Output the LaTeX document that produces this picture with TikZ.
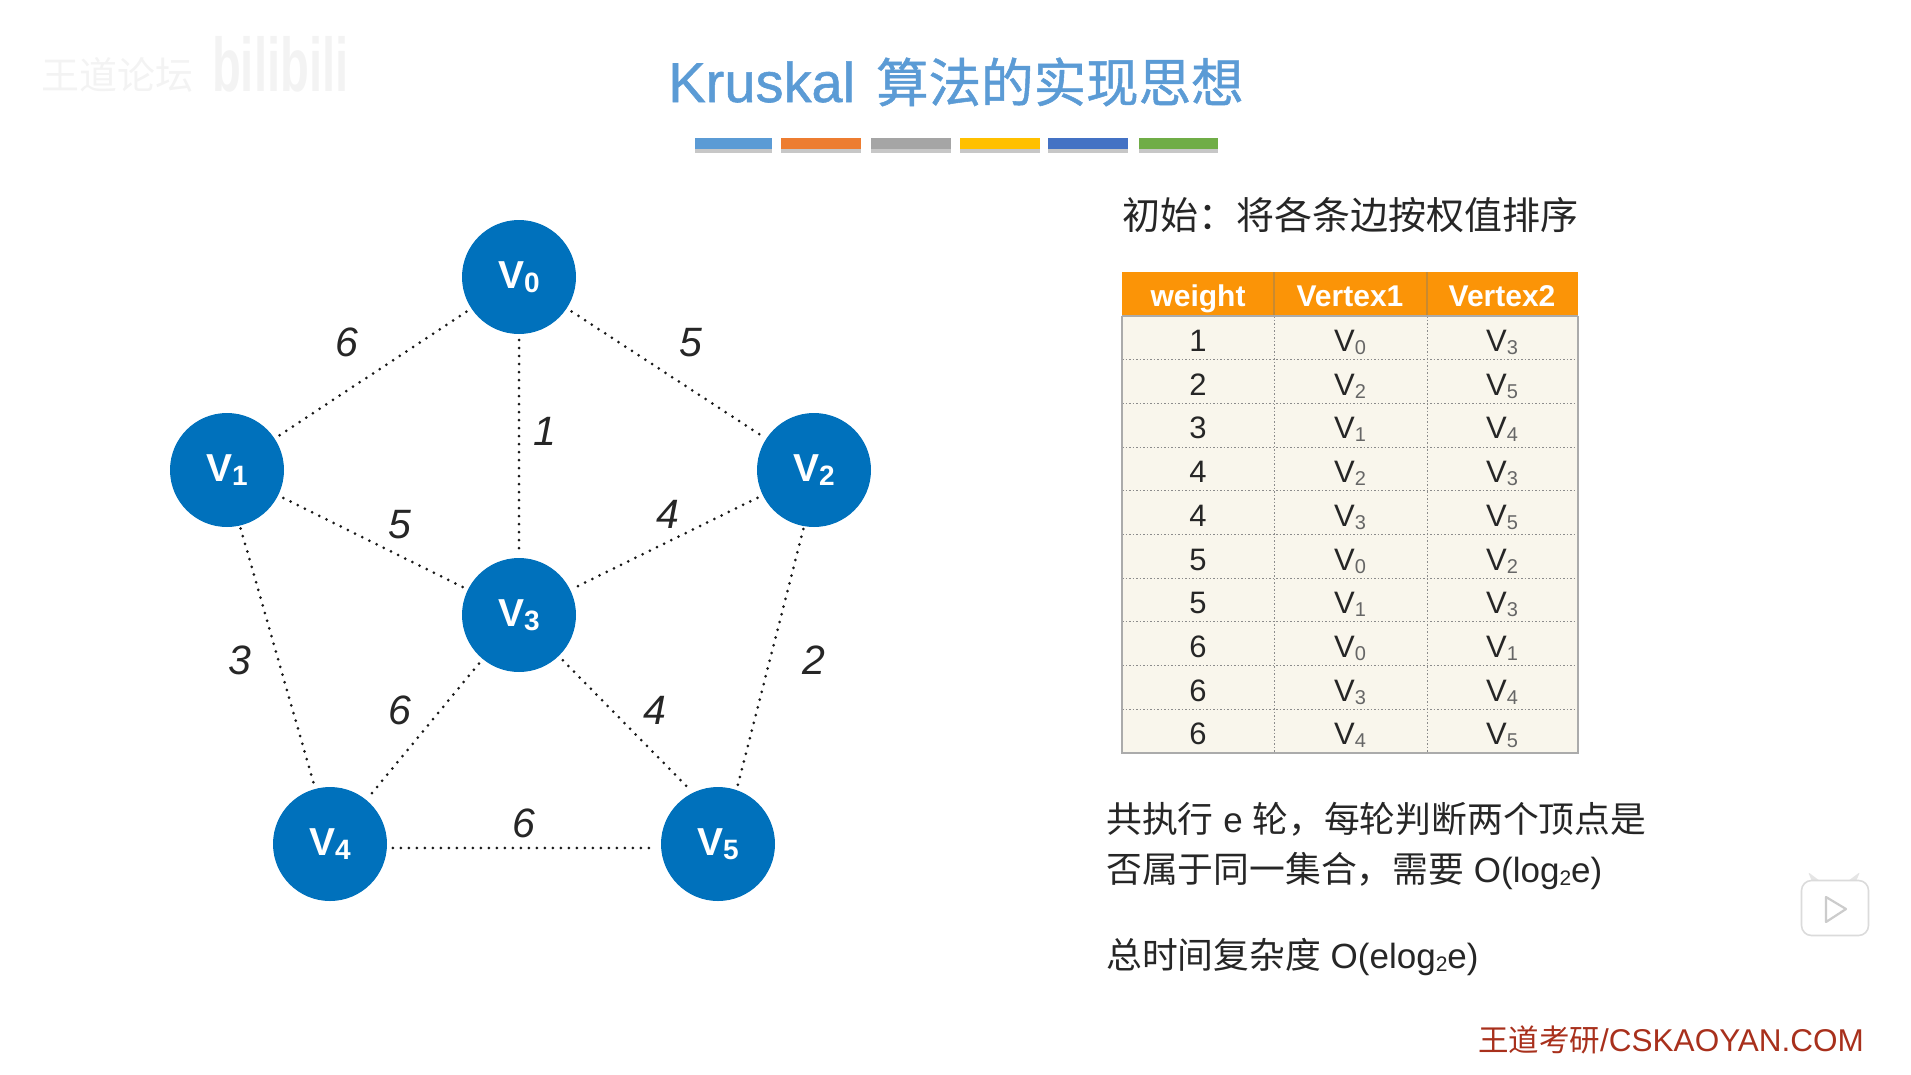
\documentclass[tikz,border=0pt]{standalone}
\usepackage{fontspec}
\setmainfont{Liberation Sans}
\newfontfamily\cjk{Noto Sans CJK SC}
\newfontfamily\cjkmed[FakeBold=1]{Noto Sans CJK SC}
\newcommand\fsz[1]{\fontsize{#1}{#1}\selectfont}
\newcommand\cjp[1]{{\cjk\fsz{35.8}#1}}
\newcommand\tv[1]{V\raisebox{-3pt}{\fsz{20}\textcolor{subgrey}{#1}}}
\newcommand\nv[1]{{\bfseries\fsz{39}\raisebox{-3pt}{V\raisebox{-3.5pt}{\fsz{28}#1}}}}
\newcommand\lowtwo{\raisebox{-3pt}{\fsz{21}2}}
\definecolor{subgrey}{HTML}{666666}
\definecolor{nodeblue}{HTML}{0071BC}
\definecolor{titleblue}{HTML}{5B9BD5}
\definecolor{txt}{HTML}{262626}
\definecolor{hdr}{HTML}{FB9407}
\definecolor{hdrline}{HTML}{C98A30}
\definecolor{body}{HTML}{F9F6EC}
\definecolor{tborder}{HTML}{ABABAB}
\definecolor{wm}{HTML}{F3F3F3}
\definecolor{foot}{HTML}{A8301C}
\tikzset{
  vert/.style={circle,fill=nodeblue,minimum size=114pt,inner sep=0pt,outer sep=0pt,text=white},
  edge/.style={line width=3pt,line cap=round,dash pattern=on 0pt off 8pt,black!90,shorten >=6pt,shorten <=6pt},
  wlab/.style={font=\fsz{41}\itshape,text=txt,inner sep=0pt},
  cell/.style={anchor=base,font=\fsz{31},text=txt,inner sep=0pt},
  head/.style={anchor=base,font=\bfseries\fsz{30},text=white,inner sep=0pt},
  para/.style={anchor=base west,text=txt,inner sep=0pt,font=\fsz{35}},
  rowline/.style={line width=1pt,dash pattern=on 1.5pt off 2pt,black!45},
}
\begin{document}
\begin{tikzpicture}[x=1pt,y=-1pt]
\useasboundingbox (0,0) rectangle (1911,1074);
% watermark
\node[anchor=west,inner sep=0pt,text=wm,font=\cjk\fsz{38}] (wmtext) at (41,75) {王道论坛};
\node[anchor=west,inner sep=0pt,text=wm,font=\bfseries\fsz{76},xscale=.62] (wmbili) at (212,64) {bilibili};
% title
\node[anchor=base,inner sep=0pt,text=titleblue] (title) at (956,102) {{\fsz{56}\addfontfeature{FakeBold=1}Kruskal}\hspace{21pt}{\cjkmed\fsz{52.5}算法的实现思想}};
% colour bars
\foreach \xa/\xb/\c/\n in {695/772/5B9BD5/1,781/861/ED7D31/2,871/951/A5A5A5/3,960/1040/FFC000/4,1048/1128/4472C4/5,1139/1218/70AD47/6}{
  \definecolor{barc}{HTML}{\c}
  \fill[black!22] (\xa,148) rectangle (\xb,153);
  \fill[barc] (\xa,138) rectangle (\xb,149);
}
% vertices
\node[vert] (V0) at (519,277) {\nv{0}};
\node[vert] (V1) at (227,470) {\nv{1}};
\node[vert] (V2) at (814,470) {\nv{2}};
\node[vert] (V3) at (519,615) {\nv{3}};
\node[vert] (V4) at (330,844) {\nv{4}};
\node[vert] (V5) at (718,844) {\nv{5}};
% edges
\draw[edge] (V0) -- (V1);
\draw[edge] (V0) -- (V2);
\draw[edge] (V0) -- (V3);
\draw[edge] (V1) -- (V3);
\draw[edge] (V2) -- (V3);
\draw[edge,shorten >=3pt,shorten <=3pt] (V1.-77) -- (V4.105);
\draw[edge,shorten >=3pt,shorten <=3pt] (V2.-100) -- (V5.71);
\draw[edge] (V3) -- (V4);
\draw[edge] (V3.-46) -- (V5.116);
\draw[edge] (V4.-4) -- (V5.184);
% weights
\node[wlab] (w01) at (347,342) {6};
\node[wlab] (w02) at (691,343) {5};
\node[wlab] (w03) at (545,431) {1};
\node[wlab] (w13) at (400,525) {5};
\node[wlab] (w23) at (668,514) {4};
\node[wlab] (w14) at (240,660) {3};
\node[wlab] (w25) at (814,660) {2};
\node[wlab] (w34) at (400,710) {6};
\node[wlab] (w35) at (655,710) {4};
\node[wlab] (w45) at (524,823) {6};
% heading
\node[para,font=\cjk\fsz{38}] (init) at (1122,229) {初始：将各条边按权值排序};
% table
\fill[hdr] (1122,272) rectangle (1578,316);
\fill[body] (1122,316) rectangle (1578,753);
\draw[hdrline,line width=1.2pt] (1274,272) -- (1274,316) (1427,272) -- (1427,316);
\foreach \i in {1,...,9}{
  \draw[rowline] (1122,316+43.7*\i) -- (1578,316+43.7*\i);
}
\draw[rowline] (1274,316) -- (1274,753) (1427,316) -- (1427,753);
\draw[tborder,line width=1.6pt] (1122,316) -- (1122,753) -- (1578,753) -- (1578,316);
\draw[tborder,line width=1.6pt] (1122,316) -- (1578,316);
\node[head] (h1) at (1198,306) {weight};
\node[head] (h2) at (1350,306) {Vertex1};
\node[head] (h3) at (1502,306) {Vertex2};
\foreach \i/\w/\a/\b in {0/1/0/3,1/2/2/5,2/3/1/4,3/4/2/3,4/4/3/5,5/5/0/2,6/5/1/3,7/6/0/1,8/6/3/4,9/6/4/5}{
  \node[cell] (cw\i) at (1198,351.5+43.7*\i) {\w};
  \node[cell] (ca\i) at (1350,351.5+43.7*\i) {\tv{\a}};
  \node[cell] (cb\i) at (1502,351.5+43.7*\i) {\tv{\b}};
}
% paragraphs
\node[para] (p1) at (1106,832) {\cjp{共执行} e \cjp{轮，每轮判断两个顶点是}};
\node[para] (p2) at (1106,882) {\cjp{否属于同一集合，需要} O(log\lowtwo e)};
\node[para] (p3) at (1106,968) {\cjp{总时间复杂度} O(elog\lowtwo e)};
% footer
\node[anchor=base west,inner sep=0pt,text=foot,font=\fsz{31.5}] (foot) at (1478,1051) {{\cjk\fsz{30.5}王道考研}/CSKAOYAN.COM};
% play badge
\fill[black!10,rounded corners=2pt] (1814,886) -- (1808,872) -- (1824,884) -- cycle;
\fill[black!10,rounded corners=2pt] (1854,886) -- (1860,872) -- (1844,884) -- cycle;
\node[draw=black!14,fill=white,line width=1.6pt,rounded corners=10pt,minimum width=67pt,minimum height=55pt,inner sep=0pt] (badge) at (1835,908) {};
\draw[draw=black!20,fill=white,line width=2.2pt,line join=round] (1826,897) -- (1846,909) -- (1826,922) -- cycle;
\end{tikzpicture}
\end{document}
